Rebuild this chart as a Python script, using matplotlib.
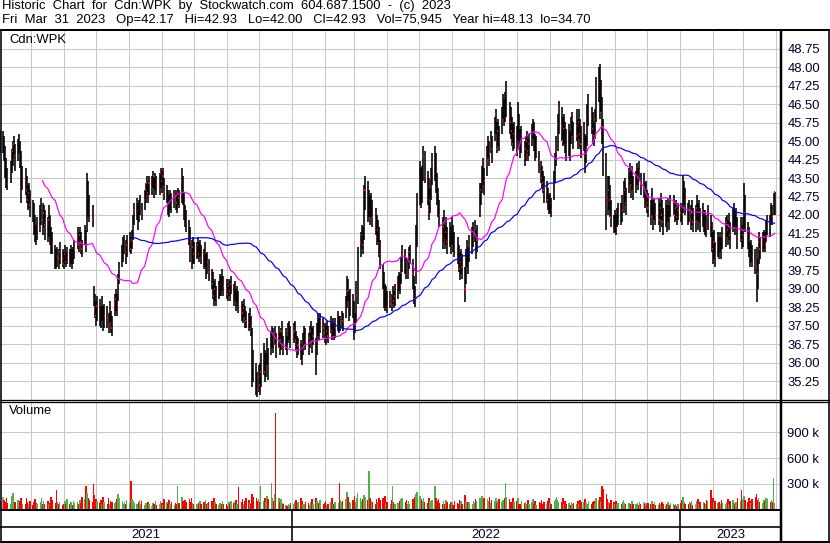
import numpy as np
import pandas as pd
import matplotlib
matplotlib.use("Agg")
import matplotlib.pyplot as plt
import matplotlib.dates as mdates
from matplotlib.collections import LineCollection

# ---------------- data ----------------
symbol = "Cdn:WPK"
header1 = "Historic  Chart  for  Cdn:WPK  by  Stockwatch.com  604.687.1500  -  (c)  2023"
header2 = "Fri  Mar  31  2023   Op=42.17   Hi=42.93   Lo=42.00   Cl=42.93   Vol=75,945   Year hi=48.13  lo=34.70"
start_date = "2021-04-01"
end_date = "2023-03-31"

close = [
    44.9, 45.0,
    45.0, 44.6, 44.2, 43.6, 43.3,  43.8, 44.3, 44.6, 44.9, 44.4,  44.8, 45.0, 44.5, 43.1, 43.6,
    43.4, 43.0, 42.6, 42.9, 42.4,  42.3, 41.9, 41.2, 41.0, 41.5,  42.0, 42.3, 41.8, 42.1, 41.6,
    41.3, 41.8, 41.2, 40.9, 40.8,  40.4, 40.0, 40.3, 40.2, 40.5,  40.2, 40.0, 40.4, 40.1, 40.3,
    40.2, 40.5, 40.1, 40.4, 40.6,  41.1, 40.8, 41.2, 40.9, 40.6,  41.2, 40.9, 43.2, 42.3, 42.1,
    41.8, 38.6, 38.2, 37.9, 38.3,  38.0, 37.8, 38.2, 37.7, 37.9,  37.8, 37.5, 38.1, 37.6, 37.4,
    38.4, 38.6, 38.3, 39.4, 39.8,  40.3, 40.6, 40.9, 40.5, 40.8,  40.9, 40.6, 41.0, 41.6, 42.2,
    42.4, 41.9, 42.2, 42.5, 42.1,  42.6, 43.0, 43.3, 42.9, 43.3,  43.3, 43.6, 43.1, 43.5, 43.2,
    43.2, 43.7, 43.4, 43.6, 42.9,  43.0, 42.5, 42.3, 42.7, 42.4,  42.8, 42.6, 42.5, 42.9, 42.7,
    43.4, 42.7, 42.2, 42.0, 41.7,  41.2, 40.9, 40.2, 40.7, 40.4,  40.5, 40.8, 40.4, 40.7, 40.3,
    40.2, 40.5, 39.9, 40.1, 39.7,  39.5, 39.2, 38.7, 39.0, 38.6,  38.9, 39.2, 39.0, 39.4, 39.1,
    39.0, 38.8, 39.1, 38.9, 39.2,  38.7, 38.9, 38.5, 38.7, 38.4,  38.1, 38.0, 38.2, 37.8, 37.7,
    37.6, 37.9, 37.5, 36.2, 35.8,  35.3, 34.9, 35.4, 35.1, 35.6,  36.2, 35.6, 35.9, 36.6, 35.8,
    36.8, 37.1, 36.9, 37.2, 36.7,  37.1, 36.6, 36.9, 37.3, 36.6,  36.9, 36.6, 37.2, 37.3, 37.0,
    37.2, 37.3, 36.9, 36.5, 36.7,  36.4, 36.1, 36.8, 37.1, 36.9,  36.6, 37.0, 37.3, 36.8, 37.1,
    36.2, 37.2, 37.6, 37.3, 37.7,  37.4, 37.2, 37.0, 37.3, 37.1,  37.6, 37.3, 37.5, 37.2, 37.4,
    37.8, 37.5, 37.6, 37.8, 37.7,  38.3, 39.2, 38.9, 38.0, 38.6,  38.2, 37.1, 37.6, 38.7, 39.7,
    40.9, 41.2, 40.8, 42.6, 43.0,  42.2, 42.7, 42.2, 42.4, 41.9,  41.8, 41.1, 41.4, 40.7, 40.4,
    39.5, 39.0, 38.4, 38.6, 38.3,  38.6, 38.4, 38.8, 38.5, 38.7,  39.1, 39.4, 39.2, 39.8, 40.4,
    40.1, 39.6, 39.8, 40.3, 40.5,  39.6, 38.8, 38.6, 41.2, 42.3,  43.4, 42.6, 43.5, 44.4, 43.6,
    43.1, 42.2, 42.6, 43.5, 44.1,  44.3, 43.5, 42.9, 42.3, 42.0,  41.1, 41.5, 41.0, 41.3, 40.9,
    41.1, 40.8, 41.3, 41.0, 40.6,  40.5, 40.2, 39.8, 40.1, 39.9,  39.0, 40.2, 40.5, 40.1, 40.7,
    40.9, 41.2, 41.4, 40.8, 41.0,  42.9, 43.0, 43.6, 43.9, 43.4,  44.2, 44.9, 44.5, 45.0, 44.7,
    45.6, 46.1, 44.7, 45.4, 45.0,  45.9, 46.6, 46.2, 46.5, 46.9,  46.0, 45.8, 45.4, 44.9, 45.3,
    45.0, 45.9, 45.2, 44.8, 45.1,  44.3, 44.7, 45.0, 44.6, 44.9,  45.3, 45.7, 45.2, 44.5, 44.8,
    44.2, 43.8, 43.5, 43.3, 43.0,  43.0, 42.6, 42.3, 42.5, 42.2,  43.4, 44.1, 44.6, 45.7, 46.3,
    45.6, 45.0, 45.5, 45.1, 44.7,  45.1, 44.6, 45.5, 45.9, 45.2,  45.6, 45.2, 45.8, 45.3, 44.9,
    45.2, 44.0, 44.7, 46.0, 46.5,  45.9, 45.5, 45.2, 45.9, 47.2,  47.6, 46.2, 47.0, 45.6, 44.3,
    42.7, 42.5, 43.0, 42.6, 41.9,  41.4, 41.8, 41.5, 41.9, 42.1,  41.9, 42.2, 42.9, 43.0, 42.5,
    43.4, 43.8, 43.2, 43.6, 43.0,  43.3, 43.7, 43.5, 43.8, 43.2,  43.2, 42.6, 42.9, 42.5, 42.3,
    41.9, 42.5, 41.8, 42.2, 42.0,  42.1, 41.8, 42.3, 42.0, 41.7,  42.1, 41.8, 42.2, 41.9, 42.4,
    42.5, 42.0, 42.3, 41.9, 42.2,  42.1, 42.0, 42.7, 43.0, 42.6,  41.9, 42.2, 41.8, 42.1, 41.7,
    41.7, 42.3, 41.9, 42.1, 41.8,  42.1, 41.7, 41.8, 41.5, 41.9,  41.6, 41.0, 40.6, 40.9, 40.3,
    40.95, 40.6, 41.0, 40.7, 41.1, 41.3, 41.7, 41.4, 41.6, 41.2,  41.8, 42.1, 41.6, 41.9, 41.1,
    41.5, 41.0, 41.2, 42.7, 42.1,  41.0, 40.8, 40.4, 40.6, 40.3,  40.0, 39.9, 39.6, 40.9, 40.6,
    40.9, 41.1, 40.8, 41.3, 41.7,  41.6, 42.1, 41.9, 42.5, 42.93,
]

high = [
    45.3, 45.4,
    45.4, 45.2, 44.8, 44.3, 43.9,  44.2, 44.7, 45.0, 45.2, 44.9,  45.1, 45.3, 45.0, 44.6, 44.0,
    43.9, 43.6, 43.2, 43.3, 43.0,  42.6, 42.5, 42.0, 41.6, 41.9,  42.4, 42.7, 42.5, 42.4, 42.2,
    41.9, 42.4, 42.0, 41.5, 41.3,  40.8, 40.6, 40.7, 40.6, 40.9,  40.6, 40.5, 40.8, 40.5, 40.7,
    40.6, 40.8, 40.6, 40.7, 41.0,  41.5, 41.3, 41.5, 41.3, 41.0,  41.6, 41.4, 43.7, 43.4, 42.8,
    42.4, 39.1, 38.8, 38.5, 38.7,  38.6, 38.3, 38.7, 38.3, 38.4,  38.3, 38.0, 38.5, 38.1, 37.9,
    38.8, 39.0, 38.8, 39.6, 40.1,  40.8, 41.1, 41.2, 41.0, 41.2,  41.3, 41.1, 41.4, 42.0, 42.5,
    42.7, 42.5, 42.6, 42.8, 42.5,  43.0, 43.3, 43.6, 43.4, 43.6,  43.6, 43.8, 43.5, 43.7, 43.6,
    43.7, 43.9, 43.8, 43.9, 43.5,  43.2, 43.0, 42.8, 43.0, 42.9,  43.0, 43.0, 42.9, 43.1, 43.0,
    43.9, 43.6, 42.9, 42.4, 42.2,  41.8, 41.5, 41.0, 41.1, 40.9,  40.9, 41.1, 40.9, 41.0, 40.8,
    40.6, 40.9, 40.4, 40.5, 40.2,  39.8, 39.7, 39.3, 39.4, 39.1,  39.3, 39.6, 39.5, 39.8, 39.5,
    39.4, 39.2, 39.4, 39.3, 39.5,  39.2, 39.3, 39.0, 39.1, 38.9,  38.5, 38.4, 38.6, 38.3, 38.1,
    38.0, 38.2, 37.9, 37.4, 36.5,  36.0, 35.6, 35.9, 36.0, 36.4,  36.8, 36.5, 36.4, 37.0, 36.6,
    37.3, 37.5, 37.4, 37.5, 37.2,  37.5, 37.2, 37.4, 37.7, 37.1,  37.4, 37.1, 37.6, 37.7, 37.5,
    37.6, 37.7, 37.3, 37.1, 37.0,  36.9, 36.7, 37.2, 37.5, 37.4,  37.2, 37.5, 37.7, 37.4, 37.5,
    37.0, 37.6, 38.0, 37.8, 38.0,  37.8, 37.6, 37.5, 37.7, 37.5,  37.9, 37.7, 37.8, 37.6, 37.8,
    38.1, 37.9, 37.9, 38.1, 38.0,  38.7, 39.5, 39.4, 38.9, 39.0,  38.8, 38.5, 38.0, 39.3, 40.7,
    41.3, 41.6, 41.5, 43.2, 43.6,  43.4, 43.0, 42.8, 42.9, 42.6,  42.3, 42.0, 41.8, 41.5, 41.0,
    40.0, 39.7, 39.2, 39.1, 38.9,  38.9, 38.8, 39.1, 38.9, 39.2,  39.5, 39.7, 39.6, 40.3, 40.8,
    40.6, 40.3, 40.2, 40.7, 40.8,  40.2, 39.5, 39.1, 41.6, 42.9,  44.2, 43.9, 44.0, 44.8, 44.6,
    43.8, 43.5, 43.1, 43.9, 44.5,  44.8, 44.5, 43.7, 43.1, 42.6,  41.9, 42.2, 41.6, 41.9, 41.5,
    41.7, 41.5, 41.9, 41.6, 41.3,  41.1, 40.8, 40.5, 40.6, 40.4,  39.9, 40.6, 41.0, 40.7, 41.2,
    41.5, 41.7, 41.8, 41.4, 41.6,  43.3, 43.3, 44.0, 44.3, 43.9,  44.8, 45.2, 45.0, 45.4, 45.2,
    46.0, 46.3, 45.8, 45.9, 45.6,  46.4, 46.9, 46.7, 47.0, 47.45, 46.6, 46.4, 46.0, 45.7, 45.8,
    45.6, 46.6, 46.1, 45.5, 45.6,  45.0, 45.2, 45.4, 45.1, 45.3,  45.7, 45.9, 45.8, 45.3, 45.2,
    44.6, 44.2, 44.0, 43.8, 43.6,  43.4, 43.1, 42.8, 42.9, 42.7,  43.8, 44.5, 45.2, 46.1, 46.65,
    46.4, 46.0, 46.1, 45.8, 45.5,  45.7, 45.4, 46.0, 46.2, 45.8,  46.3, 45.9, 46.3, 45.9, 45.6,
    45.8, 45.3, 45.2, 46.5, 46.9,  46.4, 46.2, 45.8, 46.3, 47.6,  48.0, 48.13, 47.5, 46.8, 45.9,
    44.5, 43.6, 43.6, 43.2, 42.6,  42.0, 42.2, 42.0, 42.3, 42.5,  42.5, 42.8, 43.4, 43.5, 43.1,
    43.9, 44.1, 43.8, 44.0, 43.6,  43.8, 44.1, 43.9, 44.2, 43.7,  43.7, 43.3, 43.4, 43.0, 42.9,
    42.6, 43.1, 42.6, 42.7, 42.5,  42.7, 42.5, 42.9, 42.6, 42.3,  42.6, 42.4, 42.7, 42.4, 42.8,
    42.8, 42.5, 42.6, 42.3, 42.5,  42.5, 42.4, 43.6, 43.4, 43.1,  42.5, 42.6, 42.4, 42.6, 42.3,
    42.4, 42.8, 42.5, 42.6, 42.3,  42.5, 42.2, 42.2, 42.0, 42.4,  42.0, 41.7, 41.3, 41.4, 40.9,
    41.3, 41.1, 41.3, 41.1, 41.5,  41.9, 42.0, 41.8, 42.1, 41.7,  42.3, 42.5, 42.2, 42.3, 41.9,
    41.9, 41.6, 41.9, 43.3, 42.8,  41.7, 41.5, 40.9, 41.0, 40.8,  40.6, 40.7, 40.2, 41.3, 41.1,
    41.3, 41.4, 41.3, 41.8, 42.0,  42.0, 42.5, 42.4, 42.9, 42.93,
]

low = [
    44.4, 44.5,
    44.5, 44.2, 43.5, 43.1, 43.0,  43.3, 43.7, 44.0, 44.3, 43.8,  44.2, 44.5, 43.9, 42.5, 43.0,
    42.8, 42.5, 42.2, 42.3, 41.9,  41.7, 41.2, 40.9, 40.8, 41.0,  41.3, 41.6, 41.2, 41.5, 41.0,
    40.9, 41.1, 40.8, 40.4, 40.4,  39.8, 39.8, 39.9, 39.8, 40.0,  39.9, 39.8, 40.0, 39.9, 40.0,
    39.9, 40.0, 39.8, 40.0, 40.2,  40.6, 40.5, 40.8, 40.4, 40.3,  40.8, 40.5, 41.3, 41.9, 41.7,
    41.5, 38.3, 37.8, 37.5, 37.7,  37.5, 37.4, 37.7, 37.3, 37.4,  37.4, 37.2, 37.6, 37.2, 37.1,
    37.9, 38.1, 37.9, 38.5, 39.2,  39.9, 40.1, 40.4, 40.0, 40.3,  40.5, 40.4, 40.6, 41.0, 41.6,
    41.8, 41.4, 41.7, 42.0, 41.8,  42.2, 42.5, 42.8, 42.5, 42.8,  42.8, 43.1, 42.7, 43.0, 42.8,
    42.8, 43.1, 42.9, 43.2, 42.6,  42.5, 42.0, 41.9, 42.2, 42.1,  42.3, 42.2, 42.1, 42.4, 42.3,
    42.5, 42.4, 41.8, 41.5, 41.3,  40.8, 40.1, 39.8, 40.0, 40.0,  40.2, 40.3, 40.1, 40.3, 40.0,
    39.8, 39.9, 39.4, 39.6, 39.3,  39.0, 38.6, 38.3, 38.5, 38.3,  38.6, 38.7, 38.7, 38.9, 38.7,
    38.6, 38.5, 38.7, 38.5, 38.8,  38.3, 38.5, 38.1, 38.3, 38.0,  37.7, 37.6, 37.8, 37.4, 37.4,
    37.3, 37.4, 37.1, 35.0, 35.2,  34.7, 34.6, 34.8, 34.7, 35.0,  35.5, 35.2, 35.4, 35.9, 35.3,
    36.3, 36.6, 36.4, 36.7, 36.2,  36.6, 36.3, 36.5, 36.8, 36.3,  36.5, 36.3, 36.8, 36.9, 36.6,
    36.8, 36.9, 36.5, 36.2, 36.3,  36.1, 35.9, 36.3, 36.7, 36.5,  36.3, 36.6, 36.9, 36.4, 36.7,
    35.5, 36.3, 37.1, 36.9, 37.2,  37.0, 36.8, 36.7, 36.9, 36.8,  37.2, 36.9, 37.1, 36.9, 37.0,
    37.3, 37.2, 37.3, 37.4, 37.3,  37.8, 38.2, 38.5, 37.7, 37.9,  37.8, 36.9, 37.2, 37.6, 38.4,
    40.3, 40.6, 40.4, 41.0, 42.2,  41.7, 41.9, 41.6, 41.9, 41.5,  41.2, 40.8, 40.9, 40.3, 39.8,
    39.0, 38.2, 38.1, 38.2, 38.0,  38.2, 38.1, 38.4, 38.2, 38.3,  38.6, 38.9, 38.8, 39.2, 39.7,
    39.6, 39.4, 39.4, 39.8, 40.0,  39.0, 38.4, 38.25, 39.2, 40.7, 42.4, 42.3, 42.5, 43.4, 43.3,
    42.4, 41.8, 42.1, 42.6, 43.2,  43.4, 42.9, 42.4, 41.9, 41.5,  40.6, 40.9, 40.6, 40.8, 40.4,
    40.7, 40.4, 40.8, 40.5, 40.3,  40.0, 39.7, 39.35, 39.6, 39.4, 38.45, 39.2, 39.9, 39.6, 40.1,
    40.4, 40.7, 40.9, 40.2, 40.5,  41.9, 42.4, 42.9, 43.2, 42.8,  43.6, 44.3, 44.0, 44.5, 44.1,
    45.0, 45.3, 44.5, 44.8, 44.6,  45.3, 45.9, 45.6, 45.8, 46.0,  45.3, 45.1, 44.8, 44.6, 44.7,
    44.4, 45.0, 44.7, 44.3, 44.5,  44.0, 44.2, 44.5, 44.2, 44.4,  44.8, 45.1, 44.6, 44.2, 44.3,
    43.7, 43.3, 43.1, 42.9, 42.5,  42.5, 42.2, 42.05, 42.1, 41.9, 42.6, 43.3, 44.0, 44.6, 45.3,
    45.0, 44.8, 44.9, 44.5, 44.2,  44.4, 44.2, 44.9, 45.2, 44.7,  45.0, 44.7, 45.1, 44.7, 44.3,
    44.6, 43.7, 44.1, 44.8, 45.6,  45.3, 44.9, 44.8, 45.1, 45.8,  46.6, 45.9, 46.2, 44.9, 43.6,
    41.4, 42.0, 42.2, 41.9, 41.5,  41.25, 41.3, 41.2, 41.5, 41.6, 41.6, 41.7, 42.1, 42.4, 42.0,
    42.9, 43.2, 42.7, 43.0, 42.6,  42.9, 43.2, 43.0, 43.4, 42.8,  42.7, 42.3, 42.4, 42.1, 41.9,
    41.6, 42.0, 41.4, 41.8, 41.6,  41.6, 41.3, 41.8, 41.5, 41.2,  41.5, 41.3, 41.7, 41.4, 41.9,
    42.0, 41.7, 41.8, 41.6, 41.8,  41.7, 41.6, 42.1, 42.4, 42.0,  41.6, 41.7, 41.4, 41.6, 41.3,
    41.3, 41.8, 41.4, 41.7, 41.3,  41.5, 41.3, 41.2, 41.1, 41.4,  41.1, 40.5, 40.0, 40.2, 39.9,
    40.3, 40.2, 40.5, 40.2, 40.6,  40.7, 41.1, 40.8, 41.0, 40.6,  41.3, 41.5, 41.2, 41.4, 40.6,
    40.9, 40.6, 40.7, 41.4, 41.3,  40.6, 40.3, 39.9, 40.1, 39.9,  39.6, 38.45, 39.0, 40.0, 40.2,
    40.5, 40.6, 40.5, 40.9, 41.2,  41.1, 41.6, 41.6, 42.0, 42.00,
]

volume_k = [
    120, 95,
    150, 110, 90, 135, 80,   70, 160, 190, 60, 85,    110, 75, 95, 140, 65,
    60, 130, 85, 70, 100,    55, 90, 120, 75, 60,     85, 140, 65, 100, 70,
    95, 60, 80, 150, 110,    75, 230, 90, 60, 85,     50, 70, 95, 65, 120,
    60, 85, 55, 100, 75,     90, 65, 110, 80, 150,    120, 270, 190, 140, 110,
    90, 300, 170, 120, 95,   80, 110, 65, 150, 90,    70, 130, 60, 95, 85,
    75, 90, 120, 180, 140,   100, 70, 85, 60, 110,    80, 330, 120, 95, 75,
    60, 85, 110, 70, 95,     55, 75, 60, 90, 65,      45, 80, 70, 100, 55,
    60, 95, 75, 50, 120,     85, 60, 110, 70, 90,     50, 75, 65, 280, 80,
    150, 95, 70, 110, 85,    120, 90, 140, 75, 60,    70, 55, 80, 95, 65,
    85, 110, 60, 75, 90,     100, 70, 130, 85, 60,    55, 80, 65, 95, 70,
    60, 45, 85, 70, 100,     75, 90, 110, 65, 260,    85, 120, 70, 95, 140,
    110, 80, 65, 180, 150,   130, 95, 120, 85, 280,   100, 140, 90, 160, 120,
    310, 130, 95, 180, 1125, 140, 90, 120, 75, 60,    50, 40, 70, 55, 80,
    65, 90, 110, 75, 85,     130, 95, 70, 60, 85,     75, 55, 90, 120, 70,
    140, 95, 65, 80, 110,    60, 75, 95, 55, 70,      85, 130, 70, 60, 90,
    75, 305, 110, 85, 95,    120, 200, 150, 90, 75,   110, 160, 85, 130, 190,
    140, 95, 120, 170, 150,  110, 450, 130, 95, 85,   70, 120, 90, 140, 110,
    130, 95, 160, 75, 85,    70, 110, 270, 90, 65,    80, 60, 95, 120, 140,
    85, 110, 70, 95, 60,     120, 90, 150, 180, 210,  160, 120, 95, 140, 85,
    75, 130, 100, 85, 110,   280, 140, 95, 120, 80,   70, 95, 60, 110, 85,
    65, 90, 75, 55, 100,     80, 60, 110, 95, 70,     170, 85, 60, 90, 75,
    65, 100, 80, 120, 95,    140, 110, 160, 90, 130,  120, 95, 150, 80, 110,
    100, 140, 75, 95, 120,   85, 110, 130, 305, 150,  120, 90, 75, 130, 85,
    95, 140, 70, 60, 100,    75, 90, 60, 110, 65,     85, 120, 70, 95, 55,
    90, 75, 110, 60, 85,     70, 100, 130, 80, 65,    95, 120, 150, 110, 90,
    85, 130, 70, 95, 60,     75, 55, 90, 65, 80,      60, 95, 70, 110, 85,
    90, 120, 75, 65, 100,    70, 85, 95, 60, 140,     110, 150, 95, 270, 240,
    180, 120, 90, 75, 110,   85, 70, 95, 60, 80,      65, 90, 110, 75, 60,
    80, 55, 70, 95, 65,      60, 75, 50, 85, 70,      90, 65, 80, 55, 75,
    70, 95, 60, 85, 50,      55, 80, 65, 90, 70,      45, 60, 85, 55, 75,
    65, 50, 70, 40, 60,      80, 110, 150, 90, 70,    60, 85, 75, 100, 55,
    70, 95, 120, 65, 85,     90, 75, 60, 110, 95,     230, 120, 140, 85, 100,
    75, 90, 65, 110, 80,     60, 85, 120, 70, 95,     110, 80, 65, 90, 130,
    95, 230, 120, 160, 110,  85, 140, 100, 75, 120,   150, 180, 110, 130, 90,
    80, 110, 95, 140, 120,   90, 110, 85, 370, 76,
]

price_ticks = [35.25, 36.00, 36.75, 37.50, 38.25, 39.00, 39.75, 40.50, 41.25,
               42.00, 42.75, 43.50, 44.25, 45.00, 45.75, 46.50, 47.25, 48.00, 48.75]
volume_ticks = [300000, 600000, 900000]
volume_tick_labels = ["300 k", "600 k", "900 k"]
year_labels = ["2021", "2022", "2023"]
ma_fast_window = 30
ma_slow_window = 90

# ---------------- layout ----------------
W, H = 830, 543
FONT = ["Liberation Sans", "DejaVu Sans"]
plt.rcParams["font.family"] = FONT
FS = 9.4
PX = 0.72  # points per pixel at dpi 100

fig = plt.figure(figsize=(W / 100, H / 100), dpi=100)
fig.patch.set_facecolor("white")


def box(x0, y0, x1, y1):
    return [x0 / W, 1 - y1 / H, (x1 - x0) / W, (y1 - y0) / H]


n = min(len(close), len(high), len(low), len(volume_k))
dates = pd.bdate_range(start_date, end_date)[:n]
n = len(dates)
xs = mdates.date2num(dates)
c = np.asarray(close[:n], float)
hi = np.asarray(high[:n], float)
lo = np.asarray(low[:n], float)
vol = np.asarray(volume_k[:n], float) * 1000

px_per_day = 1.064
x_left = mdates.date2num(pd.Timestamp("2021-04-02"))
x_right = x_left + 781 / px_per_day
months = mdates.date2num(pd.date_range("2021-05-01", "2023-04-01", freq="MS"))
grid_c = "#c8c8c8"
lab_c = "#000028"

# price panel
ax = fig.add_axes(box(0, 30.5, 781, 399.5))
ax.set_xlim(x_left, x_right)
ax.set_ylim(34.5, 49.5)
ax.set_xticks(months)
ax.tick_params(axis="x", length=0, labelbottom=False)
ax.yaxis.tick_right()
ax.set_yticks(price_ticks)
ax.set_yticklabels([f"{v:.2f}" for v in price_ticks])
ax.tick_params(axis="y", length=0, pad=4.5, labelsize=FS, labelcolor=lab_c)
ax.grid(True, color=grid_c, lw=1.0 * PX)
ax.set_axisbelow(True)
for s in ax.spines.values():
    s.set_visible(False)

segs, cols, lws = [], [], []
for i in range(n):
    segs.append([(xs[i], lo[i]), (xs[i], hi[i])])
    cols.append("black")
    lws.append(1.6 * PX)
    segs.append([(xs[i] - 0.45, c[i]), (xs[i] + 0.55, c[i])])
    cols.append("#ff0000")
    lws.append(2.0 * PX)
ax.add_collection(LineCollection(segs, colors=cols, linewidths=lws, capstyle="butt", zorder=3))

cs = pd.Series(c)
ma_fast = cs.rolling(ma_fast_window).mean().to_numpy()
ma_slow = cs.rolling(ma_slow_window).mean().to_numpy()
ax.plot(xs, ma_fast, color="#ff00ff", lw=1.2 * PX, zorder=4)
ax.plot(xs, ma_slow, color="#0000ff", lw=1.2 * PX, zorder=4)

# volume panel
vax = fig.add_axes(box(0, 402.5, 781, 509.5))
vax.set_xlim(x_left, x_right)
vax.set_ylim(0, 1.25e6)
vax.set_xticks(months)
vax.tick_params(axis="x", length=0, labelbottom=False)
vax.yaxis.tick_right()
vax.set_yticks(volume_ticks)
vax.set_yticklabels(volume_tick_labels)
vax.tick_params(axis="y", length=0, pad=4.5, labelsize=FS, labelcolor=lab_c)
vax.grid(True, color=grid_c, lw=1.0 * PX)
vax.set_axisbelow(True)
for s in vax.spines.values():
    s.set_visible(False)
chg = np.diff(c, prepend=c[0])
vcols = np.where(chg > 0, "#4cb34c", np.where(chg < 0, "#ff0000", "#a0a0a0"))
vax.bar(xs, vol, width=1.5, color=vcols, linewidth=0, zorder=3)

# year strip
yax = fig.add_axes(box(0, 509.5, 781, 542))
yax.set_xlim(x_left, x_right)
yax.set_ylim(0, 1)
yax.axis("off")
yb = [x_left] + [mdates.date2num(pd.Timestamp(f"{y}-01-01")) for y in (2022, 2023)] + [x_right]
for b in yb[1:-1]:
    yax.plot([b, b], [0, 1], color="black", lw=1.6 * PX)
for i, lab in enumerate(year_labels):
    yax.text((yb[i] + yb[i + 1]) / 2, 0.23, lab, ha="center", va="center", fontsize=FS, color=lab_c)

# overlay frame + texts in pixel coords
ov = fig.add_axes([0, 0, 1, 1], zorder=10)
ov.set_xlim(0, W)
ov.set_ylim(H, 0)
ov.axis("off")
ov.patch.set_alpha(0)


def hl(y, x0, x1, w):
    ov.plot([x0, x1], [y, y], color="black", lw=w * PX, solid_capstyle="butt")


def vl(x, y0, y1, w):
    ov.plot([x, x], [y0, y1], color="black", lw=w * PX, solid_capstyle="butt")


hl(30, 0, W, 2)
hl(399.5, 0, W, 1.3)
hl(402, 0, W, 1.3)
hl(509.5, 0, 781, 2)
hl(526.5, 0, 781, 1.6)
hl(542, 0, W, 2)
vl(781, 30, 543, 2.5)
vl(0.7, 30, 543, 1.6)
vl(829.2, 30, 543, 1.6)

ov.text(2, 0.5, header1, ha="left", va="top", fontsize=FS, color="black")
ov.text(2, 13.5, header2, ha="left", va="top", fontsize=FS, color="black")
ov.text(9, 34, symbol, ha="left", va="top", fontsize=FS, color="black")
ov.text(9, 405, "Volume", ha="left", va="top", fontsize=FS, color="black")

fig.savefig("out.png", dpi=100)
